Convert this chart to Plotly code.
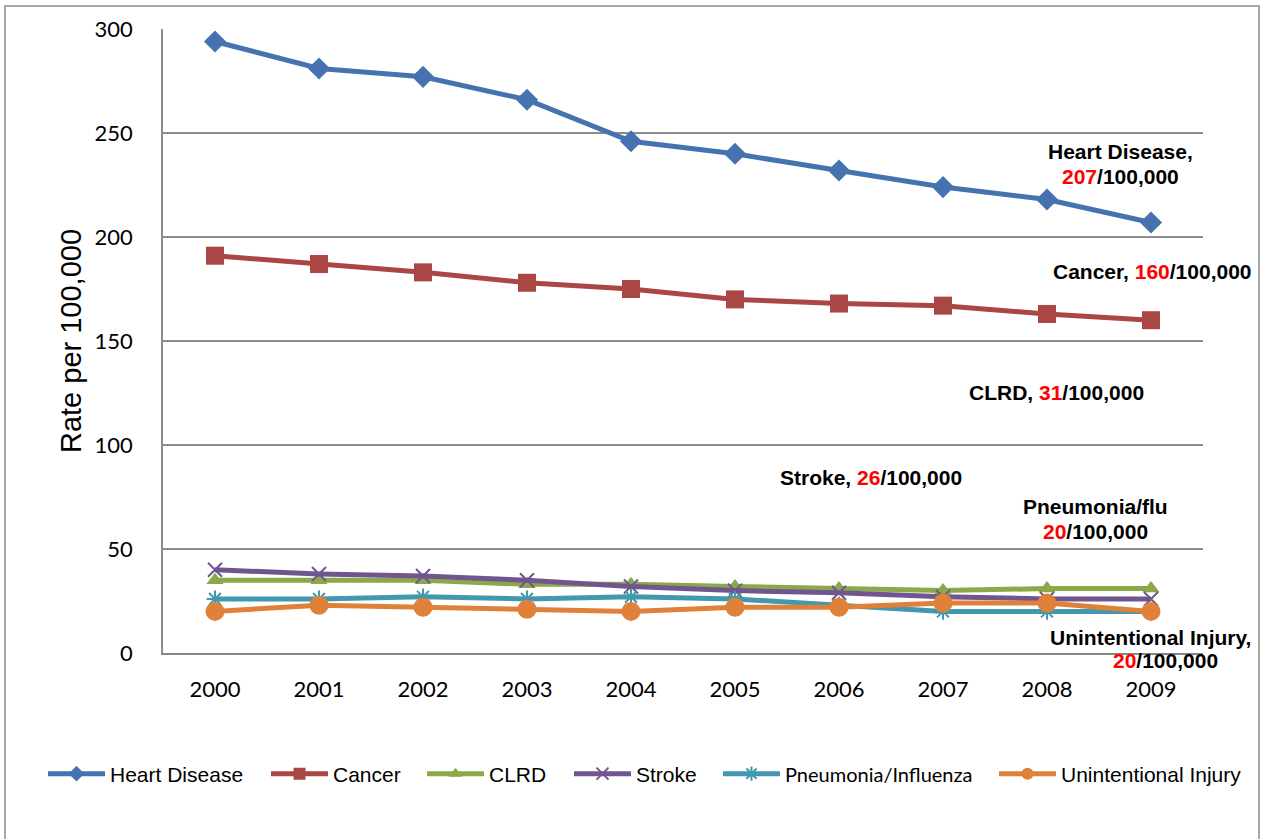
import plotly.graph_objects as go

years = ["2000", "2001", "2002", "2003", "2004", "2005", "2006", "2007", "2008", "2009"]
heart = [294, 281, 277, 266, 246, 240, 232, 224, 218, 207]
cancer = [191, 187, 183, 178, 175, 170, 168, 167, 163, 160]
clrd = [35, 35, 35, 33, 33, 32, 31, 30, 31, 31]
stroke = [40, 38, 37, 35, 32, 30, 29, 27, 26, 26]
pneumonia = [26, 26, 27, 26, 27, 26, 23, 20, 20, 20]
injury = [20, 23, 22, 21, 20, 22, 22, 24, 24, 20]
y_ticks = [0, 50, 100, 150, 200, 250, 300]

series = [
    ("Heart Disease", heart, "#4673AF", "diamond", 17, 0),
    ("Cancer", cancer, "#AA4643", "square", 18, 0),
    ("CLRD", clrd, "#8BA84B", "triangle-up", 15, 0),
    ("Stroke", stroke, "#71558F", "x-thin-open", 14, 2),
    ("<span style='font-family:Lato;font-size:20px'>Pneumonia/Influenza</span>", pneumonia, "#4198AF", "asterisk-open", 14, 2),
    ("Unintentional Injury", injury, "#DF8139", "circle", 19, 0),
]
legend_left_px = [43, 266, 422, 569, 718, 994]

W, H = 1262, 839
ml, mr, mt, mb = 163, 59, 29, 186
PW, PH = W - ml - mr, H - mt - mb


def px(x):
    return (x - ml) / PW


def py(y):
    return (H - mb - y) / PH


fig = go.Figure()
legend_layouts = {}
for i, (name, vals, color, sym, size, lw) in enumerate(series):
    marker = dict(symbol=sym, size=size, color=color)
    if lw:
        marker["line"] = dict(color=color, width=lw)
    lname = "legend" if i == 0 else "legend%d" % (i + 1)
    fig.add_trace(go.Scatter(
        x=years, y=vals, name=name, mode="lines+markers",
        line=dict(color=color, width=5), marker=marker, legend=lname,
    ))
    legend_layouts[lname] = dict(
        orientation="h", x=px(legend_left_px[i]), y=py(774), xanchor="left", yanchor="middle",
        font=dict(family="Liberation Sans, Arial", size=21),
        itemwidth=57, itemsizing="constant", bgcolor="rgba(0,0,0,0)",
    )

fig.update_layout(
    width=W, height=H,
    margin=dict(l=ml, r=mr, t=mt, b=mb),
    paper_bgcolor="white", plot_bgcolor="white",
    font=dict(family="Liberation Sans, Arial", color="black"),
    xaxis=dict(
        type="category", range=[-0.5, 9.5],
        showline=True, linecolor="#868686", linewidth=2, mirror=False,
        showgrid=False, ticks="", tickfont=dict(family="Lato", size=22),
        ticklabelstandoff=16,
    ),
    yaxis=dict(
        range=[0, 300], tickvals=y_ticks,
        showgrid=True, gridcolor="#8C8C8C", gridwidth=1.5,
        showline=True, linecolor="#8C8C8C", linewidth=1.5,
        zeroline=False, ticks="", tickfont=dict(family="Lato", size=22),
        ticklabelstandoff=24,
        title=dict(text="Rate per 100,000", font=dict(family="Liberation Sans, Arial", size=29), standoff=4),
    ),
    showlegend=True,
    **legend_layouts,
)

red = "<span style='color:#FF0000'>%s</span>"
ann = [
    (1120, 152, "<b>Heart Disease,</b>"),
    (1120, 176, "<b>" + red % "207" + "/100,000</b>"),
    (1152, 271, "<b>Cancer, " + red % "160" + "/100,000</b>"),
    (1056, 393, "<b>CLRD, " + red % "31" + "/100,000</b>"),
    (871, 477, "<b>Stroke, " + red % "26" + "/100,000</b>"),
    (1095, 507, "<b>Pneumonia/flu</b>"),
    (1095, 531, "<b>" + red % "20" + "/100,000</b>"),
    (1150, 637, "<b>Unintentional Injury,</b>"),
    (1165, 660, "<b>" + red % "20" + "/100,000</b>"),
]
for x, y, t in ann:
    fig.add_annotation(x=px(x), y=py(y), xref="paper", yref="paper", text=t, showarrow=False,
                       font=dict(family="Liberation Sans, Arial", size=21, color="black"),
                       align="center", xanchor="center", yanchor="middle")

# outer chart frame
fig.add_shape(type="rect", xref="paper", yref="paper",
              x0=px(5), x1=px(1259), y0=py(845), y1=py(6),
              line=dict(color="#8C8C8C", width=1.5), layer="below")

fig.write_html("out.html", config={"displayModeBar": False},
               post_script="document.body.style.margin='0';")
